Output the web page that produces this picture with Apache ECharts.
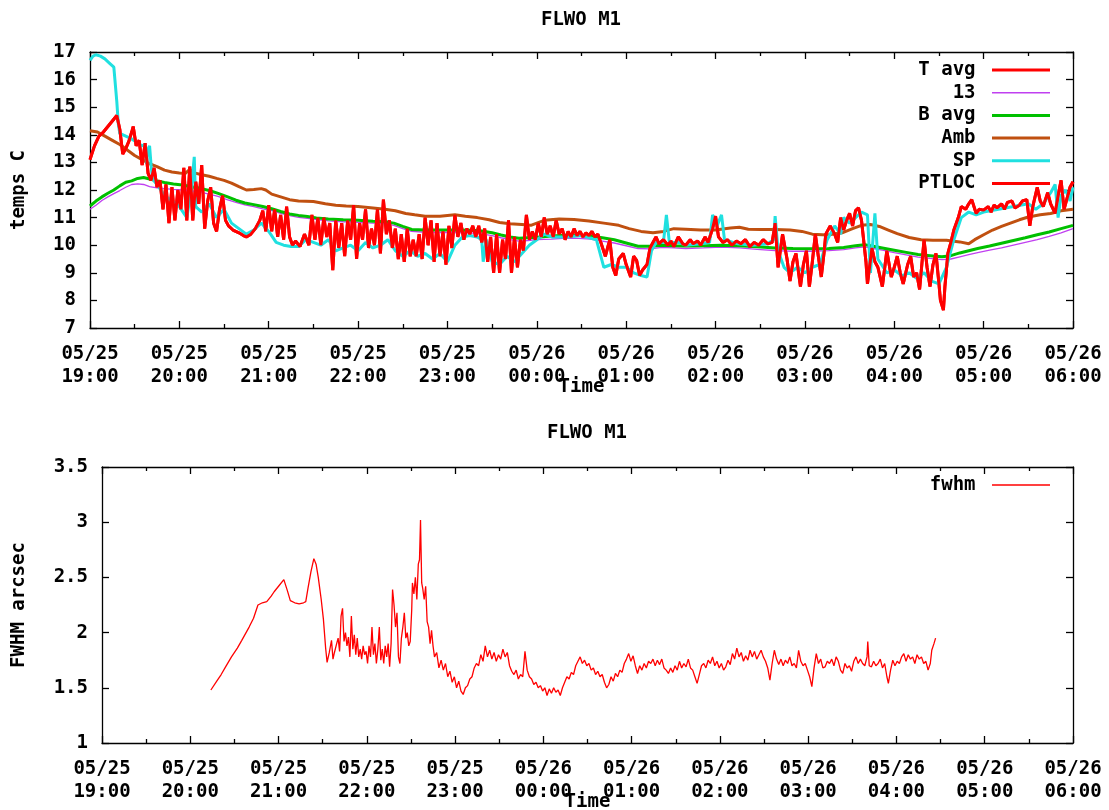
<!DOCTYPE html>
<html>
<head>
<meta charset="utf-8">
<title>FLWO M1</title>
<script src="https://cdn.jsdelivr.net/npm/echarts/dist/echarts.min.js"></script>
<style>
  body { margin: 0; background: #fff; }
  #main { width: 1109px; height: 810px; }
</style>
</head>
<body>
<div id="main"></div>
<script>
// minutes after 05/25 19:00 -> value
var xTickLabels = ['05/25\n19:00', '05/25\n20:00', '05/25\n21:00', '05/25\n22:00', '05/25\n23:00', '05/26\n00:00',
  '05/26\n01:00', '05/26\n02:00', '05/26\n03:00', '05/26\n04:00', '05/26\n05:00', '05/26\n06:00'];

var ptlocTemps = [
  [0,13.1],[3,13.6],[6,13.95],[9,14.1],[12,14.3],[15,14.5],[18,14.7],[20,14.2],[22,13.3],[24,13.5],[26,13.75],[28,14.1],
  [29,14.3],[31,13.6],[33,13.8],[35,12.9],[37,13.7],[39,12.6],[41,12.35],[43,12.8],[45,12.1],[47,12.35],[49,11.3],[51,12.2],
  [53,10.8],[55,12.1],[57,10.9],[59,12.0],[61,11.3],[63,12.8],[65,10.9],[67,12.85],[69,10.9],[71,12.3],[73,11.5],[75,12.9],
  [77,10.6],[79,11.6],[81,12.1],[83,10.8],[85,10.5],[87,11.3],[89,11.8],[91,10.9],[93,10.7],[96,10.55],[100,10.45],[103,10.35],
  [105,10.3],[108,10.4],[111,10.6],[114,10.9],[116,11.25],[118,10.5],[120,11.45],[122,10.5],[124,11.3],[126,10.3],[128,11.1],
  [130,10.2],[132,11.4],[134,10.3],[136,10.0],[138,10.15],[141,9.95],[144,10.4],[147,10.0],[149,11.1],[151,10.2],[153,11.0],
  [155,10.0],[157,11.0],[159,10.3],[161,10.8],[163,9.1],[165,10.9],[167,9.9],[169,10.8],[171,9.6],[173,10.9],[175,10.2],
  [177,11.45],[179,9.5],[181,10.8],[183,10.2],[185,11.3],[187,9.9],[189,10.6],[191,10.0],[193,11.3],[195,9.7],[197,11.65],
  [199,10.4],[201,10.9],[203,9.9],[205,10.6],[207,9.5],[209,10.4],[211,9.4],[213,10.6],[215,9.6],[217,10.2],[219,9.6],
  [221,10.4],[223,9.5],[225,11.0],[227,10.0],[229,10.9],[231,9.4],[233,10.8],[235,9.6],[237,10.5],[239,9.3],[241,10.7],
  [243,9.9],[245,11.1],[247,10.3],[249,10.8],[251,10.2],[253,10.6],[255,10.4],[257,10.7],[259,10.3],[261,10.7],[263,10.1],
  [265,10.6],[267,9.4],[269,10.3],[271,9.0],[273,10.4],[275,9.0],[277,10.2],[279,9.5],[281,10.9],[283,9.0],[285,10.3],
  [287,9.2],[289,10.2],[291,9.8],[293,11.1],[295,10.2],[297,10.5],[299,10.2],[301,10.8],[303,10.3],[305,11.0],[307,10.4],
  [309,10.7],[311,10.3],[313,10.9],[315,10.4],[317,10.6],[319,10.2],[321,10.5],[323,10.3],[325,10.6],[327,10.35],[329,10.5],
  [331,10.3],[333,10.45],[335,10.35],[337,10.5],[339,10.3],[341,10.4],[343,10.1],[346,9.6],[349,10.2],[351,9.2],[353,8.9],
  [355,9.5],[358,9.7],[360,9.3],[363,8.85],[365,9.6],[367,9.45],[369,8.9],[371,9.1],[374,9.3],[376,9.9],[378,10.1],[380,10.3],
  [382,10.05],[385,10.2],[388,10.0],[390,10.15],[392,9.95],[395,10.3],[398,10.05],[400,10.0],[403,10.2],[405,10.05],[408,10.15],
  [410,10.0],[413,10.3],[415,10.1],[418,10.6],[420,11.05],[422,10.3],[425,10.1],[428,10.2],[431,10.0],[434,10.15],[437,10.05],
  [440,10.2],[443,9.95],[446,10.1],[449,10.0],[452,10.2],[455,10.05],[458,10.1],[460,10.8],[462,9.2],[465,10.4],[468,9.5],
  [470,8.7],[472,9.4],[474,9.7],[477,8.5],[479,9.3],[481,9.8],[483,8.5],[485,9.4],[487,10.4],[489,9.6],[491,8.85],[493,9.8],
  [494,10.4],[497,10.7],[500,10.4],[502,10.1],[504,11.0],[506,10.55],[508,10.9],[510,11.15],[512,10.7],[514,11.25],[516,11.35],
  [518,10.9],[519,10.4],[521,9.4],[522,8.6],[525,9.9],[527,9.4],[529,9.2],[532,8.5],[535,9.8],[538,8.85],[540,9.2],[542,9.6],
  [544,9.0],[546,8.6],[549,9.3],[551,9.6],[553,8.85],[555,9.0],[557,8.4],[560,10.2],[562,9.2],[564,8.5],[566,9.3],[568,9.7],
  [570,8.6],[571,8.0],[573,7.65],[574,8.5],[576,9.7],[578,10.1],[580,10.55],[583,11.0],[585,11.4],[588,11.3],[590,11.5],
  [592,11.65],[595,11.15],[597,11.3],[600,11.27],[603,11.4],[605,11.2],[607,11.45],[609,11.35],[612,11.5],[614,11.3],
  [616,11.55],[619,11.6],[621,11.35],[624,11.45],[626,11.6],[629,11.65],[631,10.7],[633,11.4],[636,12.1],[638,11.6],
  [640,11.4],[643,11.9],[645,11.5],[648,11.15],[650,11.8],[652,12.35],[654,11.3],[656,11.7],[658,12.1],[660,12.3]
];

// T avg sits exactly under PTLOC in the picture
var tAvgTemps = ptlocTemps;

var spTemps = [
  [0,16.7],[2,16.85],[4,16.9],[7,16.85],[10,16.75],[13,16.6],[16,16.45],[17,16.4],[18,15.2],[19,14.4],[20,14.05],[24,13.95],
  [28,13.85],[32,13.7],[35,13.6],[37,13.65],[38,12.95],[39,13.5],[40,13.6],[41,12.9],[42,12.4],[45,12.2],[50,11.8],[55,11.6],
  [60,11.4],[65,11.0],[68,12.0],[70,13.2],[71,11.4],[75,11.2],[80,11.5],[85,11.0],[90,11.3],[95,10.8],[100,10.6],[105,10.4],
  [110,10.55],[115,10.8],[120,10.5],[125,10.1],[130,10.0],[135,9.95],[140,9.95],[145,10.2],[150,10.1],[155,10.0],[160,10.2],
  [165,9.8],[170,9.9],[175,10.0],[180,9.8],[185,10.1],[190,9.9],[195,10.0],[200,10.2],[205,9.8],[210,9.6],[215,9.8],[220,9.6],
  [225,9.7],[230,9.5],[235,9.7],[240,9.4],[245,10.0],[250,10.3],[255,10.35],[260,10.3],[263,10.2],[264,9.4],[266,10.2],
  [270,9.4],[275,9.3],[280,9.6],[285,9.4],[290,9.7],[295,10.0],[300,10.2],[305,10.4],[310,10.3],[320,10.3],[330,10.35],
  [340,10.2],[345,9.2],[350,9.3],[355,9.2],[360,9.2],[365,9.0],[370,8.9],[374,8.85],[377,9.8],[380,10.1],[385,10.1],[387,11.1],
  [389,10.1],[395,10.1],[400,10.0],[410,10.05],[416,10.1],[418,11.1],[421,10.7],[424,11.1],[426,10.2],[435,10.05],[445,10.0],
  [455,10.05],[459,10.2],[460,11.05],[462,9.8],[466,9.2],[470,9.0],[475,9.2],[480,9.0],[485,9.2],[490,9.3],[495,10.2],
  [500,10.7],[504,10.4],[506,11.0],[510,10.8],[514,11.0],[518,11.2],[522,11.1],[524,9.0],[527,11.15],[529,9.5],[535,9.0],
  [540,9.1],[545,8.9],[550,9.0],[555,8.8],[560,9.0],[565,8.7],[570,8.6],[575,9.2],[580,10.2],[585,11.0],[590,11.2],[595,11.1],
  [600,11.2],[610,11.3],[620,11.4],[630,11.5],[635,11.3],[640,11.5],[645,11.9],[648,12.2],[650,11.0],[652,11.8],[655,12.0],
  [658,11.6],[660,12.1]
];

var ambTemps = [
  [0,14.15],[5,14.1],[10,13.95],[15,13.8],[20,13.65],[25,13.45],[30,13.25],[35,13.1],[40,12.95],[45,12.85],[50,12.72],
  [55,12.65],[60,12.62],[64,12.6],[67,12.75],[70,12.62],[75,12.55],[80,12.5],[85,12.42],[90,12.35],[95,12.25],[100,12.12],
  [105,12.0],[110,12.02],[115,12.05],[118,12.0],[122,11.85],[128,11.75],[134,11.65],[140,11.6],[150,11.58],[158,11.5],
  [165,11.45],[172,11.42],[180,11.4],[190,11.35],[198,11.3],[205,11.25],[212,11.15],[218,11.1],[225,11.05],[235,11.05],
  [245,11.1],[252,11.05],[260,11.0],[268,10.92],[275,10.82],[282,10.78],[290,10.75],[296,10.72],[300,10.8],[305,10.9],
  [315,10.95],[325,10.93],[335,10.88],[345,10.8],[355,10.72],[362,10.6],[370,10.5],[378,10.45],[385,10.5],[392,10.6],
  [400,10.58],[410,10.55],[420,10.55],[430,10.62],[436,10.65],[442,10.58],[450,10.57],[460,10.57],[470,10.55],[478,10.5],
  [485,10.4],[495,10.37],[505,10.45],[512,10.6],[518,10.72],[524,10.75],[530,10.68],[536,10.55],[542,10.42],[550,10.28],
  [558,10.2],[566,10.18],[575,10.18],[584,10.12],[590,10.05],[594,10.2],[600,10.38],[606,10.55],[612,10.68],[618,10.8],
  [624,10.92],[630,11.02],[638,11.1],[645,11.15],[652,11.25],[660,11.3]
];

var bAvgTemps = [
  [0,11.42],[4,11.6],[8,11.75],[12,11.88],[16,12.0],[20,12.15],[24,12.28],[28,12.33],[32,12.42],[36,12.45],[40,12.4],
  [45,12.33],[50,12.27],[56,12.22],[62,12.18],[68,12.12],[74,12.06],[80,11.98],[86,11.88],[92,11.76],[98,11.63],[104,11.53],
  [110,11.47],[116,11.4],[122,11.32],[128,11.22],[134,11.13],[140,11.08],[146,11.04],[152,10.99],[160,10.95],[170,10.92],
  [180,10.9],[190,10.87],[198,10.85],[204,10.8],[210,10.68],[216,10.57],[225,10.55],[235,10.55],[245,10.55],[255,10.54],
  [262,10.52],[270,10.45],[276,10.37],[282,10.3],[288,10.25],[294,10.27],[300,10.29],[310,10.33],[320,10.36],[328,10.36],
  [336,10.33],[344,10.27],[352,10.2],[360,10.08],[368,9.96],[376,9.96],[384,10.0],[392,9.98],[400,9.97],[412,9.98],[424,10.0],
  [436,9.98],[448,9.94],[460,9.9],[472,9.88],[484,9.87],[496,9.88],[506,9.92],[514,9.98],[520,10.02],[526,9.96],[532,9.9],
  [540,9.82],[548,9.74],[556,9.66],[564,9.62],[572,9.58],[578,9.62],[584,9.72],[590,9.8],[596,9.88],[604,9.97],[612,10.07],
  [620,10.17],[628,10.27],[636,10.38],[644,10.48],[652,10.6],[660,10.72]
];

var sensor13Temps = [
  [0,11.3],[4,11.45],[8,11.62],[12,11.75],[16,11.87],[20,11.98],[24,12.1],[28,12.2],[32,12.22],[36,12.2],[40,12.12],
  [45,12.08],[50,12.05],[56,12.02],[62,12.0],[68,11.96],[74,11.92],[80,11.85],[86,11.77],[92,11.65],[98,11.55],[104,11.46],
  [110,11.4],[116,11.32],[122,11.25],[128,11.15],[134,11.07],[140,11.01],[146,10.97],[152,10.93],[160,10.88],[170,10.85],
  [180,10.83],[190,10.8],[198,10.78],[204,10.72],[210,10.6],[216,10.5],[225,10.47],[235,10.46],[245,10.47],[255,10.45],
  [262,10.42],[270,10.35],[276,10.27],[282,10.2],[288,10.15],[294,10.17],[300,10.2],[310,10.22],[320,10.26],[328,10.25],
  [336,10.22],[344,10.15],[352,10.08],[360,9.98],[368,9.88],[376,9.87],[384,9.92],[392,9.9],[400,9.88],[412,9.9],[424,9.93],
  [436,9.9],[448,9.85],[460,9.8],[472,9.78],[484,9.78],[496,9.8],[506,9.84],[514,9.9],[520,9.94],[526,9.88],[532,9.82],
  [540,9.73],[548,9.65],[556,9.57],[564,9.52],[572,9.48],[578,9.5],[584,9.58],[590,9.66],[596,9.73],[604,9.82],[612,9.9],
  [620,10.0],[628,10.1],[636,10.2],[644,10.32],[652,10.45],[660,10.6]
];

var fwhmValues = [
  [74,1.48],[78,1.56],[81,1.62],[84,1.69],[88,1.78],[92,1.86],[95,1.93],[100,2.05],[103,2.13],[106,2.25],[109,2.27],[112,2.28],
  [115,2.33],[117,2.37],[120,2.42],[123.6,2.48],[126,2.38],[128,2.29],[131,2.27],[134,2.26],[137,2.27],[138.5,2.28],[140,2.4],
  [142,2.55],[144,2.67],[145.5,2.62],[147,2.5],[149,2.3],[150.5,2.12],[152,1.86],[153,1.73],[154.5,1.82],[156,1.93],[157,1.76],
  [158,1.82],[159.5,1.9],[160.5,1.95],[161.5,1.83],[162.5,2.15],[163.5,2.22],[164.5,1.92],[165.5,2.0],[166.5,1.88],[167.5,1.96],
  [168.5,1.78],[169.5,2.15],[170.5,1.85],[171.5,1.98],[172.5,1.8],[173.5,1.95],[174.5,1.78],[175.5,1.85],[176.5,1.76],
  [177.5,1.88],[178.5,1.8],[179.5,1.83],[180.5,1.72],[181.5,1.88],[182.5,1.78],[183.5,2.05],[184.5,1.8],[185.5,1.9],
  [186.5,1.72],[187.5,1.85],[188.5,2.05],[189.5,1.75],[190.5,1.85],[191.5,1.72],[192.5,1.88],[193.5,1.78],[194.5,1.9],
  [195.5,1.69],[196.5,1.9],[197.5,2.39],[198.5,2.25],[199.5,2.05],[200.5,2.18],[201.5,1.78],[202.5,1.72],[203.5,1.95],
  [204.5,2.05],[205.5,2.18],[206.5,1.95],[207.5,2.0],[208.5,1.88],[209.5,1.92],[210.5,2.2],[211,2.45],[212,2.35],[213,2.5],
  [214,2.3],[215,2.62],[215.8,2.66],[216.5,3.02],[217.3,2.45],[218,2.4],[219,2.3],[220,2.42],[221,2.1],[222,2.05],[223,1.9],
  [224,2.02],[225,1.88],[226,1.78],[227.5,1.82],[229,1.68],[230.5,1.75],[232,1.66],[233.5,1.72],[235,1.6],[236.5,1.65],
  [238,1.55],[239.5,1.6],[241,1.5],[242.5,1.56],[244,1.47],[245.5,1.44],[247,1.5],[248.5,1.52],[250,1.58],[251.5,1.6],
  [253,1.68],[254.5,1.72],[256,1.7],[257.5,1.8],[259,1.74],[260.5,1.88],[262,1.78],[263.5,1.84],[265,1.76],[266.5,1.82],
  [268,1.74],[269.5,1.8],[271,1.76],[272.5,1.85],[274,1.78],[275.5,1.82],[277,1.7],[278.5,1.65],[280,1.62],[281.5,1.66],
  [283,1.58],[284.5,1.62],[286,1.6],[287.5,1.83],[289,1.66],[290.5,1.6],[292,1.58],[293.5,1.53],[295,1.55],[296.5,1.5],
  [298,1.52],[299.5,1.47],[301,1.5],[302.5,1.43],[304,1.49],[305.5,1.45],[307,1.5],[308.5,1.46],[310,1.48],[311.5,1.43],
  [313,1.5],[314.5,1.55],[316,1.6],[317.5,1.58],[319,1.64],[320.5,1.62],[322,1.7],[323.5,1.74],[325,1.78],[326.5,1.72],
  [328,1.75],[329.5,1.7],[331,1.72],[332.5,1.66],[334,1.68],[335.5,1.62],[337,1.65],[338.5,1.6],[340,1.62],[341.5,1.55],
  [343,1.5],[344.5,1.53],[346,1.6],[347.5,1.56],[349,1.63],[350.5,1.6],[352,1.66],[353.5,1.64],[355,1.72],[356.5,1.76],
  [358,1.81],[359.5,1.74],[361,1.79],[362.5,1.7],[364,1.63],[365.5,1.7],[367,1.66],[368.5,1.72],[370,1.68],[371.5,1.74],
  [373,1.72],[374.5,1.76],[376,1.7],[377.5,1.75],[379,1.71],[380.5,1.76],[382,1.68],[383.5,1.66],[385,1.63],[386.5,1.68],
  [388,1.64],[389.5,1.7],[391,1.66],[392.5,1.74],[394,1.68],[395.5,1.72],[397,1.69],[398.5,1.76],[400,1.68],[401.5,1.66],
  [403,1.6],[404.5,1.54],[406,1.62],[407.5,1.7],[409,1.72],[410.5,1.68],[412,1.75],[413.5,1.72],[415,1.78],[416.5,1.7],
  [418,1.74],[419.5,1.68],[421,1.72],[422.5,1.66],[424,1.69],[425.5,1.75],[427,1.71],[428.5,1.81],[430,1.76],[431.5,1.86],
  [433,1.78],[434.5,1.82],[436,1.74],[437.5,1.79],[439,1.75],[440.5,1.84],[442,1.78],[443.5,1.83],[445,1.76],[446.5,1.8],
  [448,1.84],[449.5,1.78],[451,1.74],[452.5,1.68],[454,1.57],[455.5,1.72],[457,1.84],[458.5,1.76],[460,1.71],[461.5,1.76],
  [463,1.7],[464.5,1.75],[466,1.72],[467.5,1.78],[469,1.7],[470.5,1.72],[472,1.68],[473.5,1.84],[475,1.74],[476.5,1.7],
  [478,1.72],[479.5,1.66],[481,1.6],[482.5,1.51],[484,1.68],[485.5,1.81],[487,1.72],[488.5,1.76],[490,1.68],[491.5,1.69],
  [493,1.74],[494.5,1.72],[496,1.76],[497.5,1.7],[499,1.78],[500.5,1.74],[502,1.66],[503.5,1.63],[505,1.72],[506.5,1.68],
  [508,1.7],[509.5,1.65],[511,1.74],[512.5,1.78],[514,1.72],[515.5,1.76],[517,1.72],[518.5,1.7],[520,1.78],[520.5,1.92],
  [521.5,1.7],[523,1.69],[524.5,1.74],[526,1.7],[527.5,1.72],[529,1.76],[530.5,1.68],[532,1.72],[533.5,1.6],[534.5,1.54],
  [536,1.66],[537.5,1.75],[539,1.7],[540.5,1.74],[542,1.72],[543.5,1.78],[545,1.81],[546.5,1.74],[548,1.8],[549.5,1.76],
  [551,1.78],[552.5,1.72],[554,1.8],[555.5,1.76],[557,1.78],[558.5,1.72],[560,1.74],[561.5,1.66],[563,1.72],[564,1.84],
  [565.5,1.9],[566.6,1.95]
];

var FONT = '"DejaVu Sans Mono", monospace';
var txt = { color: '#000', fontFamily: FONT, fontWeight: 'bold', fontSize: 19 };
var edge = { color: '#000', width: 1.3 };

function timeAxis(grid, pos, withLabels) {
  return {
    type: 'value', gridIndex: grid, position: pos, min: 0, max: 660, interval: 60,
    name: withLabels ? 'Time' : '', nameLocation: 'middle', nameGap: 50, nameMoveOverlap: false, nameTextStyle: txt,
    splitLine: { show: false },
    axisLine: { show: true, onZero: false, lineStyle: edge },
    axisTick: { inside: true, length: 7, lineStyle: edge },
    minorTick: { show: true, splitNumber: 2, length: 4, lineStyle: edge },
    axisLabel: {
      show: withLabels, margin: 15, lineHeight: 23,
      color: '#000', fontFamily: FONT, fontWeight: 'bold', fontSize: 19,
      formatter: function (v) { return xTickLabels[Math.round(v / 60)] || ''; }
    }
  };
}

function valAxis(grid, pos, min, max, step, name, gap) {
  return {
    type: 'value', gridIndex: grid, position: pos, min: min, max: max, interval: step,
    name: name, nameLocation: 'middle', nameRotate: 90, nameGap: gap, nameMoveOverlap: false, nameTextStyle: txt,
    splitLine: { show: false },
    axisLine: { show: true, onZero: false, lineStyle: edge },
    axisTick: { inside: true, length: 7, lineStyle: edge },
    axisLabel: { show: pos === 'left', margin: 14, color: '#000', fontFamily: FONT, fontWeight: 'bold', fontSize: 19 }
  };
}

function line(name, data, color, width, xi) {
  return {
    name: name, type: 'line', xAxisIndex: xi, yAxisIndex: xi, data: data,
    symbol: 'none', showSymbol: false, sampling: null,
    itemStyle: { color: color, borderWidth: 0 },
    lineStyle: { color: color, width: width }
  };
}

var legendCommon = {
  orient: 'vertical', align: 'right', right: 59, padding: 0, itemGap: 2.7,
  itemWidth: 58, itemHeight: 3, icon: 'rect', selectedMode: false,
  itemStyle: { borderWidth: 0 },
  textStyle: { color: '#000', fontFamily: FONT, fontWeight: 'bold', fontSize: 19, lineHeight: 20 },
  formatter: function (name) { return name + ' '; }
};

var chart = echarts.init(document.getElementById('main'));
chart.setOption({
  backgroundColor: '#fff',
  animation: false,
  title: [
    { text: 'FLWO M1', left: 581, top: 11, textAlign: 'center', padding: 0, textStyle: txt },
    { text: 'FLWO M1', left: 587, top: 424, textAlign: 'center', padding: 0, textStyle: txt }
  ],
  legend: [
    Object.assign({}, legendCommon, {
      top: 60,
      data: ['T avg', { name: '13', icon: 'path://M0,0H58V1.5H0Z' }, 'B avg', 'Amb', 'SP', 'PTLOC']
    }),
    Object.assign({}, legendCommon, {
      top: 475,
      data: [{ name: 'fwhm', icon: 'path://M0,0H58V1.5H0Z' }]
    })
  ],
  grid: [
    { left: 90, right: 36, top: 52, height: 276, outerBoundsMode: 'none' },
    { left: 102, right: 36, top: 467, height: 276, outerBoundsMode: 'none' }
  ],
  xAxis: [
    timeAxis(0, 'bottom', true), timeAxis(0, 'top', false),
    timeAxis(1, 'bottom', true), timeAxis(1, 'top', false)
  ],
  yAxis: [
    valAxis(0, 'left', 7, 17, 1, 'temps C', 61), valAxis(0, 'right', 7, 17, 1, '', 0),
    valAxis(1, 'left', 1, 3.5, 0.5, 'FWHM arcsec', 73), valAxis(1, 'right', 1, 3.5, 0.5, '', 0)
  ],
  series: [
    line('T avg', tAvgTemps, '#ff0000', 3, 0),
    line('13', sensor13Temps, '#c040f0', 1.3, 0),
    line('B avg', bAvgTemps, '#00c000', 3, 0),
    line('Amb', ambTemps, '#c05010', 3, 0),
    line('SP', spTemps, '#20e0e0', 3, 0),
    line('PTLOC', ptlocTemps, '#ff0000', 3, 0),
    line('fwhm', fwhmValues, '#ff0000', 1.3, 2)
  ]
});
</script>
</body>
</html>
